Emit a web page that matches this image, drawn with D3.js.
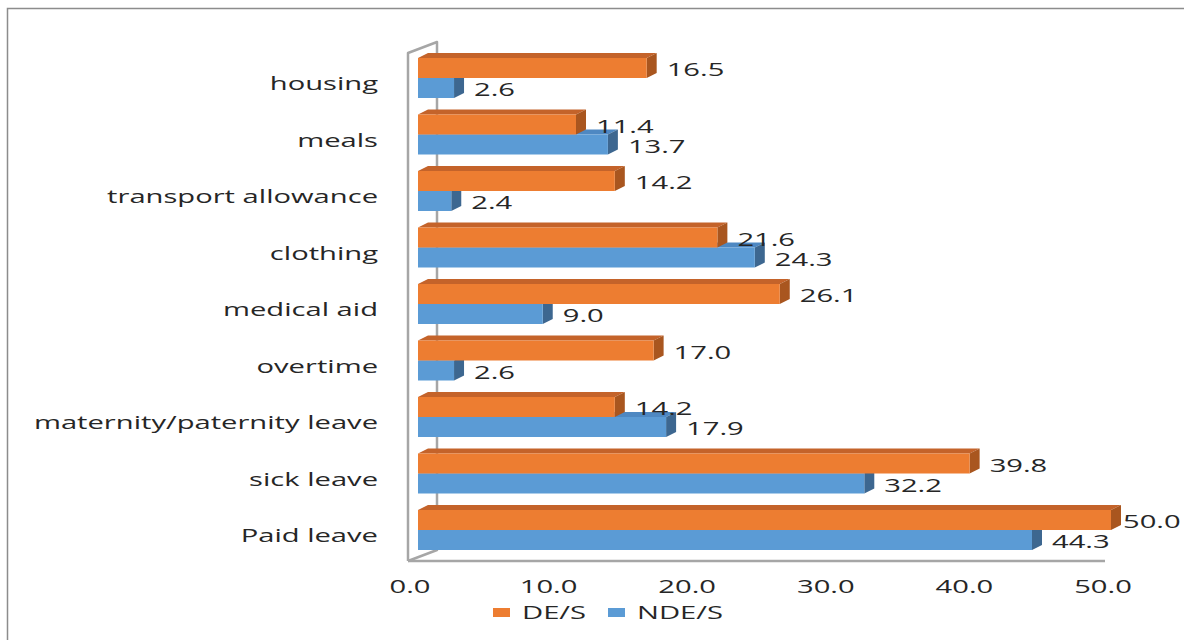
<!DOCTYPE html>
<html>
<head>
<meta charset="utf-8">
<script src="https://cdn.jsdelivr.net/npm/d3@7"></script>
<style>
  body { margin: 0; background: #fff; }
  text { font-family: "Open Sans", sans-serif; fill: #262626; }
</style>
</head>
<body>
<div id="chart"></div>
<script>
// chart data
var categories = ["housing", "meals", "transport allowance", "clothing", "medical aid",
    "overtime", "maternity/paternity leave", "sick leave", "Paid leave"];
var series_names = ["DE/S", "NDE/S"];
var de_values = [16.5, 11.4, 14.2, 21.6, 26.1, 17.0, 14.2, 39.8, 50.0];
var nde_values = [2.6, 13.7, 2.4, 24.3, 9.0, 2.6, 17.9, 32.2, 44.3];
var tick_values = [0, 10, 20, 30, 40, 50];

var svg_width = 1184;
var svg_height = 640;

// colours: front, top, side
var colors = {
    "DE/S": { front: "#ED7D31", top: "#C4632A", side: "#A9561F" },
    "NDE/S": { front: "#5B9BD5", top: "#4E88C2", side: "#3D6790" }
};

var font_size = 18;
var stretch = 1.62;   // the text in the picture is stretched sideways
var depth_dx = 10, depth_dy = 5;
var bar_shift = 8;    // front face sits in front of the axis zero

var svg = d3.select("#chart")
    .append("svg")
    .attr("width", svg_width)
    .attr("height", svg_height);

// outer border
svg.append("rect")
    .attr("x", 7.5).attr("y", 8.5)
    .attr("width", svg_width + 20).attr("height", svg_height)
    .attr("fill", "none")
    .attr("stroke", "#8c8c8c")
    .attr("stroke-width", 1.5);

// scales
var x_scale = d3.scaleLinear().domain([0, 50]).range([410, 1103]);
var y_scale = d3.scaleBand()
    .domain(categories)
    .range([49.75, 558.25])
    .paddingInner(16.5 / 56.5)
    .paddingOuter(16.5 / 56.5 / 2);
var y_inner = d3.scaleBand().domain(series_names).range([0, y_scale.bandwidth()]);

// stretched text helper
function addText(g, x, y, str, anchor) {
    return g.append("text")
        .attr("transform", `translate(${x},${y}) scale(${stretch},1)`)
        .attr("text-anchor", anchor)
        .attr("font-size", font_size)
        .text(str);
}

// 3D wall outline
var wall_front = x_scale(0) - 2;
var wall_top = 53, wall_bottom = 561;
var wall = svg.append("g")
    .attr("fill", "none")
    .attr("stroke", "#a6a6a6")
    .attr("stroke-width", 2.5)
    .attr("stroke-linejoin", "round");
wall.append("path")
    .attr("d", `M${wall_front},${wall_bottom} L${wall_front},${wall_top} L${wall_front + 29},${wall_top - 11} L${wall_front + 29},${wall_bottom - 11} L${wall_front},${wall_bottom}`);
wall.append("line")
    .attr("x1", wall_front).attr("x2", x_scale(50) + 2)
    .attr("y1", wall_bottom).attr("y2", wall_bottom);

// bars
var rows = categories.map((c, i) => ({ cat: c, "DE/S": de_values[i], "NDE/S": nde_values[i] }));
var bars = svg.append("g");
var labels = svg.append("g");

rows.forEach(function(d) {
    ["NDE/S", "DE/S"].forEach(function(s) {
        var x0 = x_scale(0) + bar_shift;
        var x1 = x_scale(d[s]) + bar_shift;
        var y0 = y_scale(d.cat) + y_inner(s);
        var h = y_inner.bandwidth();
        var c = colors[s];
        var g = bars.append("g");
        g.append("polygon")
            .attr("points", [[x0, y0], [x0 + depth_dx, y0 - depth_dy], [x1 + depth_dx, y0 - depth_dy], [x1, y0]].join(" "))
            .attr("fill", c.top);
        g.append("polygon")
            .attr("points", [[x1, y0], [x1 + depth_dx, y0 - depth_dy], [x1 + depth_dx, y0 + h - depth_dy], [x1, y0 + h]].join(" "))
            .attr("fill", c.side);
        g.append("rect")
            .attr("x", x0).attr("y", y0)
            .attr("width", x1 - x0).attr("height", h)
            .attr("fill", c.front);

        var lx = Math.min(x1 + 20, 1123);
        addText(labels, lx, y0 + h / 2 + 8, d[s].toFixed(1), "start");
    });
});

// category labels
categories.forEach(function(c) {
    addText(svg, 378, y_scale(c) + y_scale.bandwidth() / 2 + 12, c, "end");
});

// x tick labels
tick_values.forEach(function(t) {
    addText(svg, x_scale(t), 593, t.toFixed(1), "middle");
});

// legend
var legend = svg.append("g");
var legend_items = [{ name: "DE/S", x: 493 }, { name: "NDE/S", x: 608 }];
legend_items.forEach(function(l) {
    legend.append("rect")
        .attr("x", l.x).attr("y", 608)
        .attr("width", 17).attr("height", 9)
        .attr("fill", colors[l.name].front);
    addText(legend, l.x + 29, 619, l.name, "start");
});
</script>
</body>
</html>
